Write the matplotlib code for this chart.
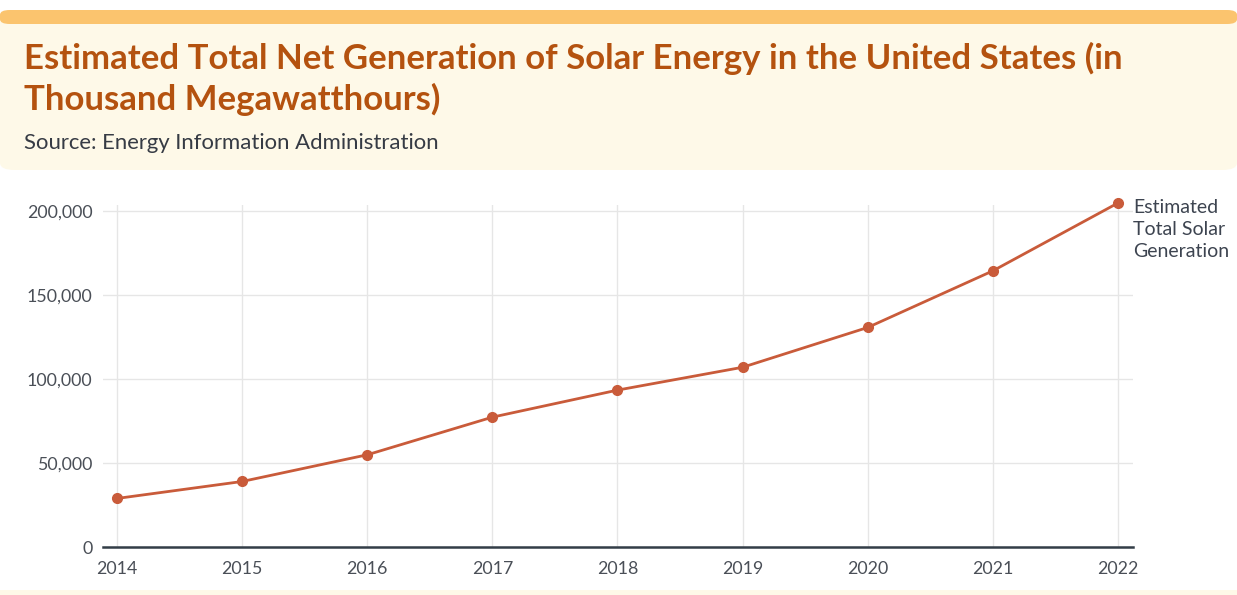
import matplotlib.pyplot as plt
from matplotlib.patches import Rectangle, FancyBboxPatch
from matplotlib.ticker import FuncFormatter

years = [2014, 2015, 2016, 2017, 2018, 2019, 2020, 2021, 2022]
generation = [28900, 39000, 54900, 77300, 93400, 107000, 130700, 164400, 204800]
y_ticks = [0, 50000, 100000, 150000, 200000]

title = "Estimated Total Net Generation of Solar Energy in the United States (in\nThousand Megawatthours)"
source = "Source: Energy Information Administration"
series_name = "Estimated\nTotal Solar\nGeneration"

W, H = 1237, 595
fig = plt.figure(figsize=(W / 100, H / 100), dpi=100)
fig.patch.set_facecolor("white")

# header band
fig.patches.append(FancyBboxPatch((0, 1 - 170 / H), 1, 160 / H, boxstyle="round,pad=0,rounding_size=0.012",
                                  transform=fig.transFigure, facecolor="#fef9e8", edgecolor="none", zorder=0))
fig.patches.append(FancyBboxPatch((0, 1 - 24 / H), 1, 14 / H, boxstyle="round,pad=0,rounding_size=0.008",
                                  transform=fig.transFigure, facecolor="#fbc46e", edgecolor="none", zorder=1))
fig.patches.append(Rectangle((0, 0), 1, 5 / H, transform=fig.transFigure,
                             facecolor="#fef9e8", edgecolor="none", zorder=0))

fig.text(24 / W, 1 - 42 / H, title, fontsize=25, fontweight="bold", family="Lato",
         color="#b4520f", va="top", ha="left", linespacing=1.27)
fig.text(24 / W, 1 - 143 / H, source, fontsize=15.9, family="Lato", color="#363b44", va="center", ha="left")

ax = fig.add_axes([103 / W, 48 / H, (1133 - 103) / W, (547 - 205) / H])
ax.plot(years, generation, color="#c95b3a", linewidth=2, marker="o", markersize=7, clip_on=False, zorder=3)

ax.set_xlim(2013.888, 2022.12)
ax.set_ylim(0, 203600)
ax.set_xticks(years)
ax.set_yticks(y_ticks)
ax.yaxis.set_major_formatter(FuncFormatter(lambda v, p: f"{int(v):,}"))
ax.grid(True, color="#e6e6e6", linewidth=1)
ax.set_axisbelow(True)
for s in ["top", "right", "left"]:
    ax.spines[s].set_visible(False)
ax.spines["bottom"].set_color("#333d47")
ax.spines["bottom"].set_linewidth(1.8)
ax.tick_params(axis="both", length=0, labelsize=12.8, labelcolor="#4a4f57")
ax.tick_params(axis="y", pad=7.5)
ax.tick_params(axis="x", pad=10)
for lbl in ax.get_xticklabels() + ax.get_yticklabels():
    lbl.set_family("Lato")

ax.text(2022.12, generation[-1] + 2500, series_name, fontsize=14, family="Lato", color="#3d4450",
        va="top", ha="left", linespacing=1.35, clip_on=False)

fig.savefig("out.png", dpi=100)
